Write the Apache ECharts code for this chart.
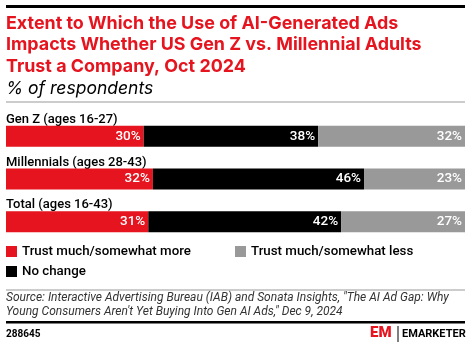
<!DOCTYPE html>
<html><head><meta charset="utf-8">
<script src="https://cdn.jsdelivr.net/npm/echarts@6/dist/echarts.min.js"></script>
<style>html,body{margin:0;padding:0;background:#fff}#c{width:470px;height:347px}</style>
</head><body><div id="c"></div>
<script>
const categories = ['Gen Z (ages 16-27)', 'Millennials (ages 28-43)', 'Total (ages 16-43)'];
const trustMore = [30, 32, 31];
const noChange = [38, 46, 42];
const trustLess = [32, 23, 27];
const seriesNames = ['Trust much/somewhat more', 'No change', 'Trust much/somewhat less'];
const RED = '#e5141e', GRAY = '#999999', BLACK = '#000000';
const FONT = 'Roboto';

const chart = echarts.init(document.getElementById('c'), null, {renderer: 'canvas'});
const lbl = {show: true, position: 'insideRight', color: '#fff', fontFamily: FONT, fontSize: 13.5, fontWeight: 500, formatter: p => p.value + '%', distance: 3};
function mk(name, data, color) {
  return {name, type: 'bar', stack: 'a', data, barWidth: 21, itemStyle: {color}, label: lbl, silent: true};
}
const legText = {color: '#000', fontFamily: FONT, fontSize: 13.3, fontWeight: 500};
function leg(name, left, top) {
  return {left, top, itemWidth: 11, itemHeight: 11, itemGap: 0, icon: 'rect', itemStyle: {borderWidth: 0},
    data: [name], selectedMode: false, padding: 0, textStyle: legText};
}
chart.setOption({
  animation: false,
  grid: {left: 6, right: 5, top: 115, height: 128, containLabel: false},
  xAxis: {type: 'value', min: 0, max: 100, show: false},
  yAxis: {type: 'category', data: categories, inverse: true,
    axisLine: {show: false}, axisTick: {show: false},
    axisLabel: {inside: true, margin: 0, align: 'left', verticalAlign: 'bottom', padding: [0, 0, 10, 0],
      color: '#000', fontFamily: FONT, fontSize: 13, fontWeight: 500}},
  legend: [leg(seriesNames[0], 6, 245), leg(seriesNames[2], 235, 245), leg(seriesNames[1], 6, 265)],
  series: [mk(seriesNames[0], trustMore, RED), mk(seriesNames[1], noChange, BLACK), mk(seriesNames[2], trustLess, GRAY)],
  graphic: [
    {type: 'rect', shape: {x: 6, y: 5, width: 459, height: 3}, style: {fill: '#000'}},
    {type: 'text', left: 6, top: 12.5, style: {text: 'Extent to Which the Use of AI-Generated Ads\nImpacts Whether US Gen Z vs. Millennial Adults\nTrust a Company, Oct 2024', fill: RED, font: '700 17.9px Inter', lineHeight: 21.5}},
    {type: 'text', left: 6, top: 80, style: {text: '% of respondents', fill: '#000', font: 'italic 400 17.5px Inter'}},
    {type: 'rect', shape: {x: 6, y: 101.5, width: 459, height: 1}, style: {fill: '#999'}},
    {type: 'rect', shape: {x: 6, y: 289.5, width: 459, height: 1}, style: {fill: '#999'}},
    {type: 'text', left: 6, top: 291, style: {text: 'Source: Interactive Advertising Bureau (IAB) and Sonata Insights, "The AI Ad Gap: Why\nYoung Consumers Aren\'t Yet Buying Into Gen AI Ads," Dec 9, 2024', fill: '#333', font: 'italic 400 12px Roboto', lineHeight: 14}},
    {type: 'rect', shape: {x: 6, y: 321, width: 459, height: 2.5}, style: {fill: '#000'}},
    {type: 'text', left: 6, top: 329, style: {text: '288645', fill: '#000', font: '700 10px Roboto'}},
    {type: 'text', left: 370, top: 326, style: {text: 'EM', fill: RED, font: '900 15px Roboto'}},
    {type: 'rect', shape: {x: 397.5, y: 326, width: 1, height: 16}, style: {fill: '#000'}},
    {type: 'text', left: 402, top: 329, style: {text: 'EMARKETER', fill: '#000', font: '700 11px Roboto'}}
  ]
});
</script></body></html>
